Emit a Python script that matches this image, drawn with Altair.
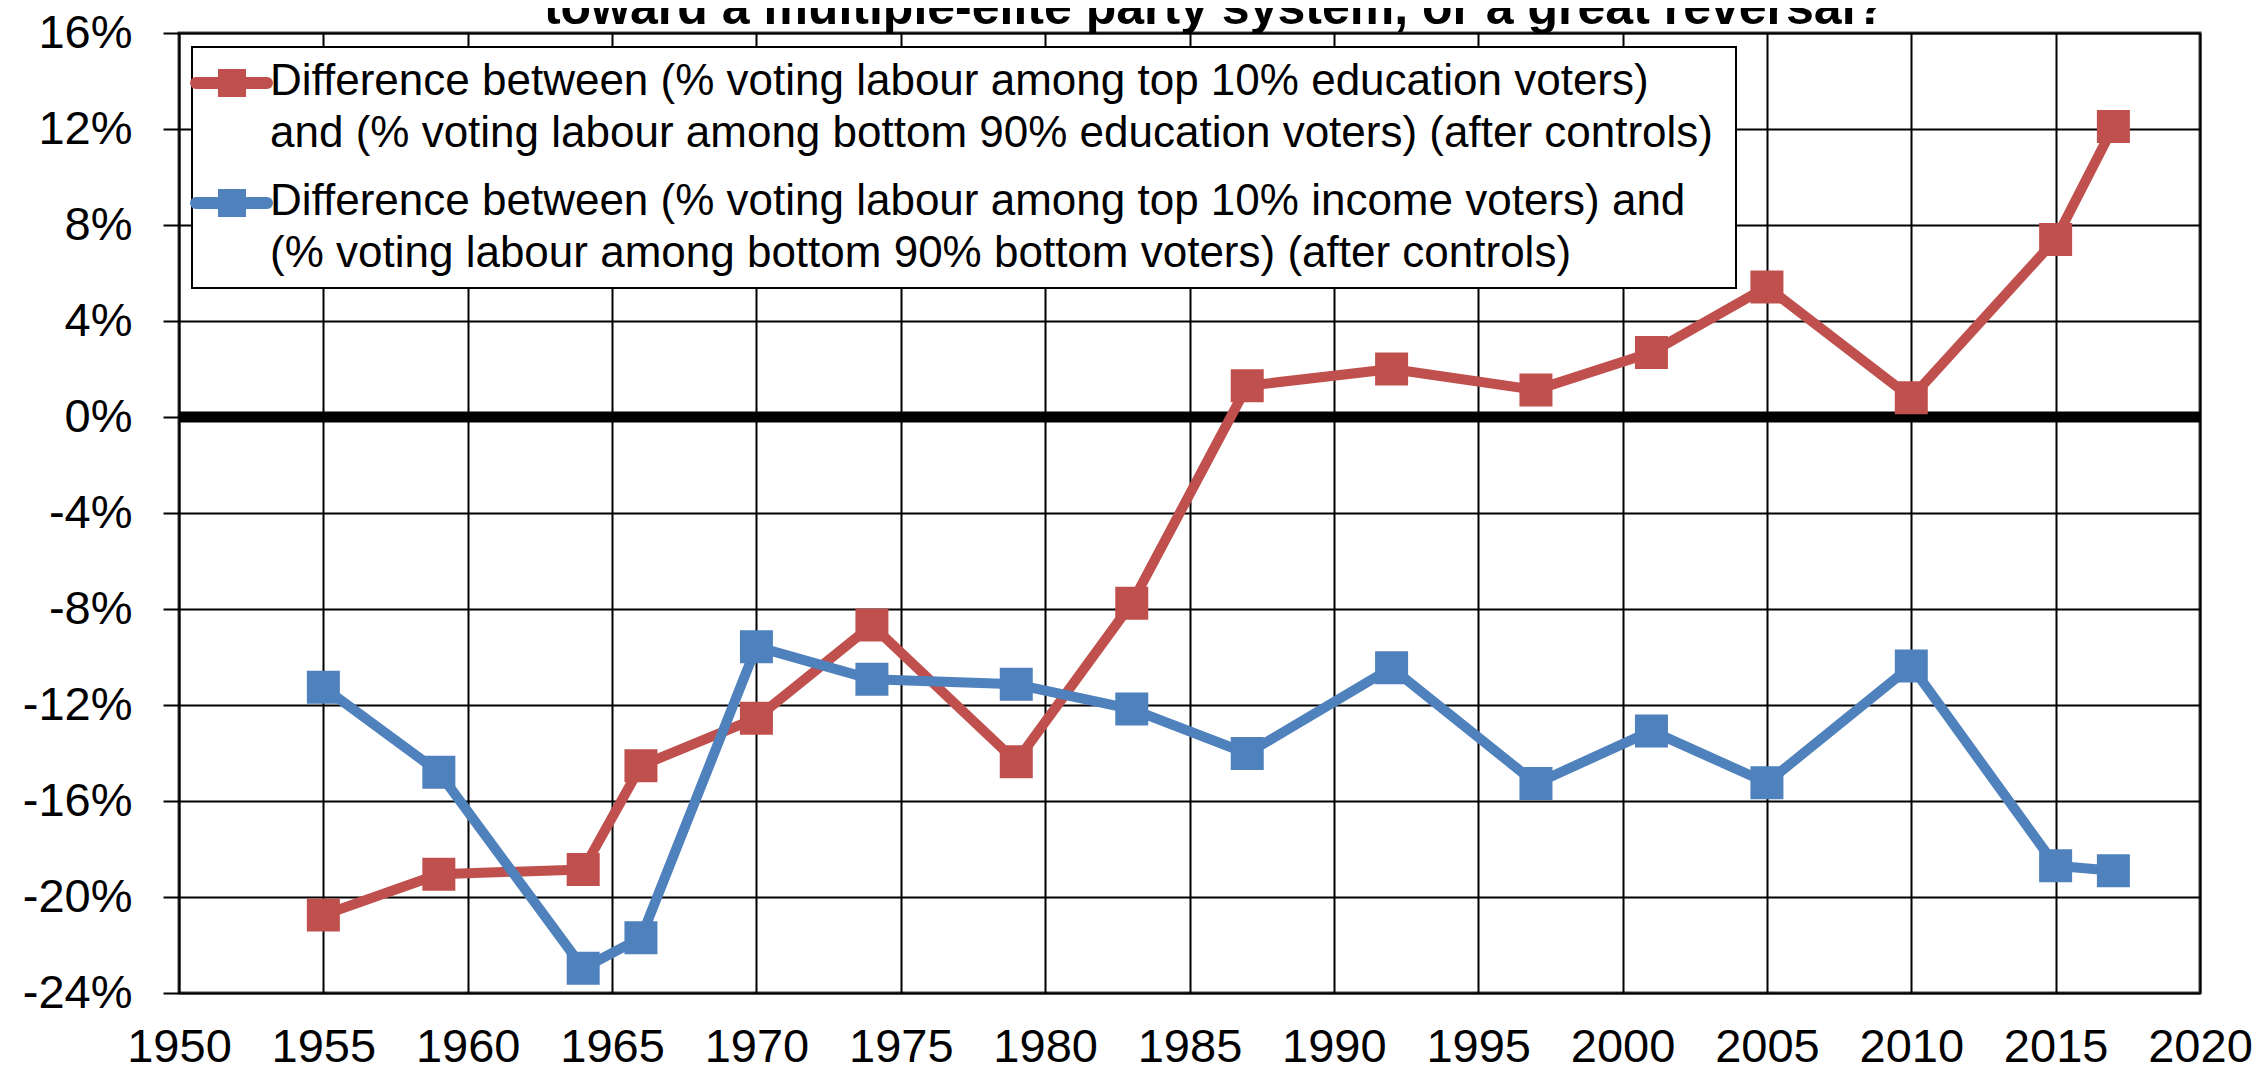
import altair as alt
import pandas as pd

years = [1955, 1959, 1964, 1966, 1970, 1974, 1979, 1983, 1987, 1992, 1997, 2001, 2005, 2010, 2015, 2017]
education_gap = [-20.75, -19.05, -18.85, -14.53, -12.55, -8.67, -14.36, -7.76,
                 1.3, 2.0, 1.13, 2.69, 5.42, 0.8, 7.4, 12.1]
income_gap = [-11.26, -14.8, -22.97, -21.7, -9.57, -10.93, -11.14, -12.17,
              -14.02, -10.45, -15.27, -13.08, -15.24, -10.37, -18.7, -18.91]

series_names = ["education", "income"]
series_colors = ["#C0504D", "#4F81BD"]
legend_lines = [
    "Difference between (% voting labour among top 10% education voters)",
    "and (% voting labour among bottom 90% education voters) (after controls)",
    "Difference between (% voting labour among top 10% income voters) and",
    "(% voting labour among bottom 90% bottom voters) (after controls)",
]
title_text = "toward a multiple-elite party system, or a great reversal?"
x_ticks = list(range(1950, 2021, 5))
y_ticks = list(range(-24, 17, 4))

rows = []
for i, y in enumerate(years):
    rows.append({"year": y, "value": education_gap[i], "series": "education"})
for i, y in enumerate(years):
    rows.append({"year": y, "value": income_gap[i], "series": "income"})
df = pd.DataFrame(rows)

FONT = "Liberation Sans"

xenc = alt.X("year:Q", scale=alt.Scale(domain=[1950, 2020], nice=False, zero=False),
             axis=alt.Axis(values=x_ticks, format="d", title=None, grid=True,
                           gridColor="#000000", gridWidth=2, domain=False,
                           ticks=True, tickSize=0, labelPadding=68,
                           labelOverlap=False, labelFlush=False,
                           labelBaseline="alphabetic", labelFontSize=47,
                           labelFont=FONT, labelColor="#000000"))
yenc = alt.Y("value:Q", scale=alt.Scale(domain=[-24, 16], nice=False, zero=False),
             axis=alt.Axis(values=y_ticks, labelExpr="datum.value + '%'", title=None,
                           grid=True, gridColor="#000000", gridWidth=2, domain=False,
                           ticks=True, tickSize=16, tickColor="#000000", tickWidth=2,
                           labelPadding=31, labelFontSize=47, labelFont=FONT,
                           labelColor="#000000", labelAlign="right",
                           labelOverlap=False, labelFlush=False,
                           labelBaseline="middle"))

base = alt.Chart(df)
zero = alt.Chart(pd.DataFrame({"v": [0]})).mark_rule(color="#000000", strokeWidth=11).encode(
    y=alt.Y("v:Q", scale=alt.Scale(domain=[-24, 16], nice=False, zero=False)))

layers = [base.mark_point().encode(x=xenc, y=yenc, opacity=alt.value(0)), zero]
for name, col in zip(series_names, series_colors):
    sub = alt.Chart(df[df.series == name])
    layers.append(sub.mark_line(strokeWidth=10, color=col, strokeJoin="round").encode(
        x="year:Q", y="value:Q"))
    layers.append(sub.mark_square(size=1089, color=col, opacity=1, filled=True).encode(
        x="year:Q", y="value:Q"))

one = pd.DataFrame({"a": [0]})
# legend box
layers.append(alt.Chart(one).mark_rect(fill="#FFFFFF", stroke="#000000", strokeWidth=2).encode(
    x=alt.value(13), x2=alt.value(1557), y=alt.value(14), y2=alt.value(255)))
for ly, col in zip([50, 170], series_colors):
    layers.append(alt.Chart(one).mark_rule(color=col, strokeWidth=12, strokeCap="round").encode(
        x=alt.value(17), x2=alt.value(88), y=alt.value(ly)))
    layers.append(alt.Chart(one).mark_square(size=784, color=col, opacity=1, filled=True).encode(
        x=alt.value(53), y=alt.value(ly)))
for txt, by in zip(legend_lines, [62, 114, 182, 234]):
    layers.append(alt.Chart(one).mark_text(font=FONT, fontSize=44, align="left",
                                           baseline="alphabetic", color="#000000").encode(
        x=alt.value(91), y=alt.value(by), text=alt.value(txt)))
layers.append(alt.Chart(one).mark_text(font=FONT, fontSize=50, fontWeight="bold",
                                       align="center", baseline="alphabetic",
                                       color="#000000").encode(
    x=alt.value(1036), y=alt.value(-9), text=alt.value(title_text)))

chart = alt.layer(*layers).properties(
    width=2021, height=960,
    autosize=alt.AutoSizeParams(type="none"),
    padding={"left": 171, "top": 25, "right": 54, "bottom": 78},
    background="#FFFFFF",
).configure_view(stroke="#404040", strokeWidth=3)

chart.save("out.html", embed_options={"renderer": "svg", "actions": False})
